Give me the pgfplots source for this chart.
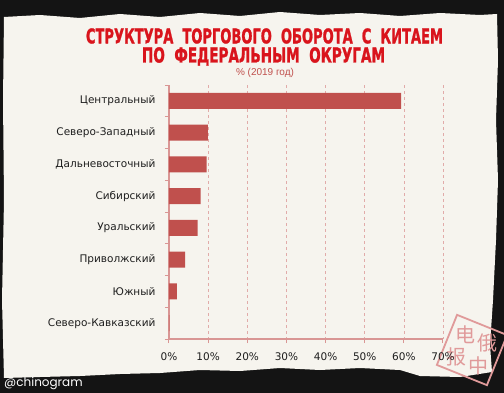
\documentclass[border=0pt]{standalone}
\usepackage{pgfplots}
\pgfplotsset{compat=1.18}
\usepackage{fontspec}
\setmainfont{DejaVu Sans}
\newfontfamily\titlefont[FakeBold=1.5]{DejaVu Sans Bold}
\newfontfamily\subfont{Liberation Sans}
\newfontfamily\handlefont{Poppins}
\newfontfamily\cjk{Noto Sans CJK SC}
\definecolor{barred}{HTML}{C0504D}
\definecolor{axpink}{HTML}{D99694}
\definecolor{titlered}{HTML}{D9141C}
\definecolor{paper}{HTML}{F6F4EE}
\definecolor{stamp}{HTML}{E09A9A}
\definecolor{lbl}{HTML}{1E1E1E}
\newcommand\lblfont{\fontsize{10.5}{12}\selectfont}
\begin{document}
\begin{tikzpicture}
\useasboundingbox (0pt,0pt) rectangle (504pt,-393pt);
\fill[black!92] (0pt,0pt) rectangle (504pt,-393pt);
% paper
\begin{scope}[x=1pt,y=1pt]
\fill[paper] (4,-17) -- (40,-15) -- (80,-18) -- (120,-14) -- (160,-17) -- (200,-13) -- (240,-16) -- (280,-12) -- (320,-15) -- (360,-13) -- (400,-16) -- (440,-13) -- (480,-15) -- (497,-14)
 -- (498,-60) -- (496,-120) -- (498,-180) -- (496,-240) -- (493,-300) -- (490,-345) -- (492,-372)
 -- (460,-377) -- (420,-376) -- (400,-370) -- (360,-368) -- (320,-370) -- (280,-368) -- (240,-371) -- (200,-370) -- (160,-373) -- (120,-374) -- (80,-376) -- (40,-377) -- (4,-378)
 -- (2,-300) -- (4,-200) -- (3,-100) -- cycle;
\end{scope}
% stamp
\begin{scope}[shift={(472pt,-350pt)}, rotate=-22]
\draw[stamp, line width=1.8pt] (-27pt,-27pt) rectangle (27pt,27pt);
\node[stamp, font=\cjk\fontsize{20}{20}\selectfont] at (-12pt,12pt) {电};
\node[stamp, font=\cjk\fontsize{20}{20}\selectfont] at (12pt,12pt) {俄};
\node[stamp, font=\cjk\fontsize{20}{20}\selectfont] at (-12pt,-12pt) {报};
\node[stamp, font=\cjk\fontsize{20}{20}\selectfont] at (12pt,-12pt) {中};
\end{scope}
% titles
\node[titlered, inner sep=0pt] at (264.5pt,-36pt) {\resizebox{357pt}{15pt}{\titlefont СТРУКТУРА\ \ ТОРГОВОГО\ \ ОБОРОТА\ \ С\ \ КИТАЕМ}};
\node[titlered, inner sep=0pt, anchor=base] at (263.5pt,-62.5pt) {\scalebox{1.36}[2.06]{\titlefont ПО\ \ ФЕДЕРАЛЬНЫМ\ \ ОКРУГАМ}};
\node[barred, font=\subfont\fontsize{10}{12}\selectfont] at (265pt,-73pt) {\% (2019 год)};
\node[white, anchor=west, font=\handlefont\fontsize{12}{14}\selectfont, inner sep=0pt] at (4pt,-384pt) {@chinogram};
\begin{axis}[
  at={(169pt,-339pt)}, anchor=south west, scale only axis,
  width=274pt, height=254pt,
  xbar, bar width=16pt,
  xmin=0, xmax=70, ymin=-0.5, ymax=7.5, y dir=reverse,
  axis x line*=bottom, axis y line*=left,
  axis line style={axpink, line width=1.2pt, -},
  xtick={0,10,...,70},
  xticklabel={\pgfmathprintnumber{\tick}\%},
  /pgf/number format/assume math mode=true,
  ytick={0,...,7},
  yticklabels={Центральный, Северо-Западный, Дальневосточный, Сибирский, Уральский, Приволжский, Южный, Северо-Кавказский},
  y tick style={draw=none},
  x tick style={axpink, line width=1pt},
  tick align=outside, major tick length=4pt,
  extra y ticks={-0.5,0.5,...,7.5},
  extra y tick labels={},
  extra y tick style={y tick style={axpink, line width=1pt, draw=axpink}, major tick length=4pt},
  xmajorgrids,
  major grid style={axpink!80, dashed, line width=0.6pt},
  every tick label/.append style={font=\lblfont, text=lbl},
  yticklabel style={xshift=-6pt, font=\lblfont},
  xticklabel style={yshift=-6pt, font=\lblfont},
  clip=false,
]
\addplot[fill=barred, draw=none] coordinates {
(59.3,0) (9.9,1) (9.6,2) (8.1,3) (7.3,4) (4.1,5) (2.0,6) (0.1,7)};
\end{axis}
\end{tikzpicture}
\end{document}
